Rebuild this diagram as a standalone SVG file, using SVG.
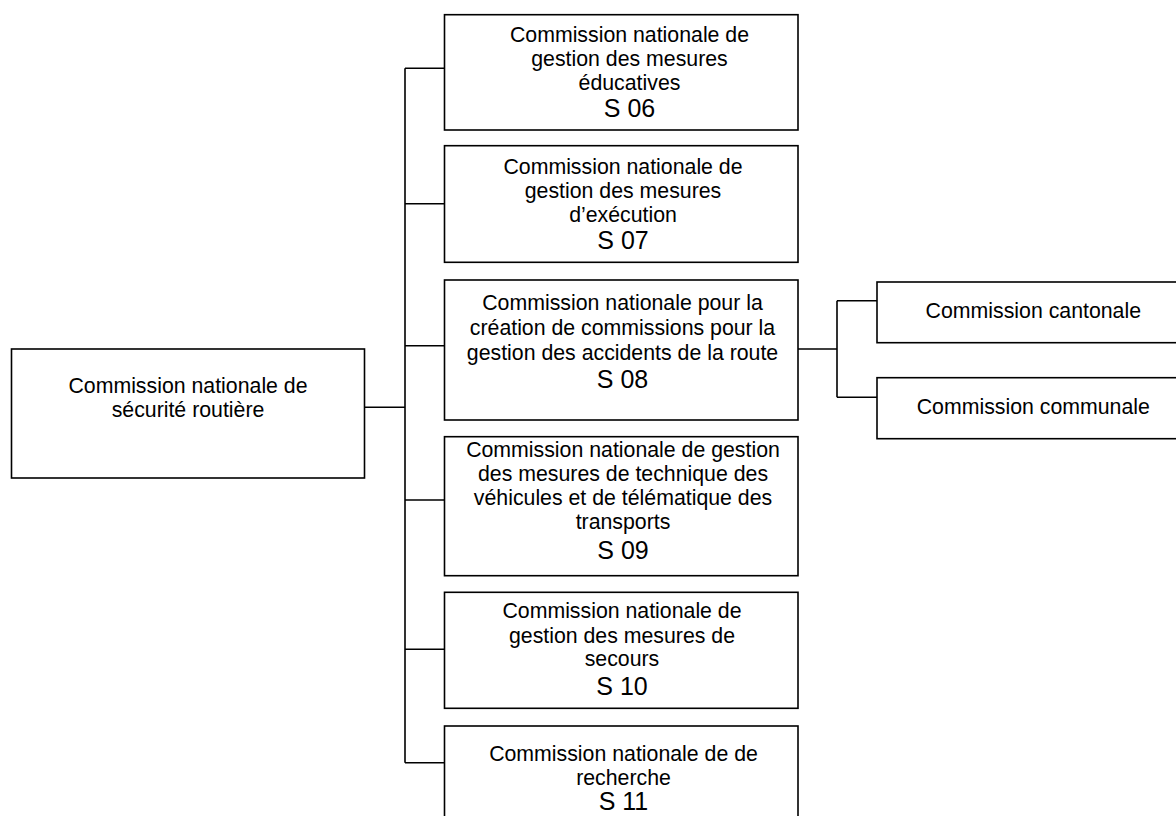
<svg xmlns="http://www.w3.org/2000/svg" width="1176" height="816" viewBox="0 0 1176 816">
<style>
  rect.box { fill: #ffffff; stroke: #000000; stroke-width: 1.6; }
  .conn { fill: none; stroke: #000000; stroke-width: 1.6; }
  text { font-family: "Liberation Sans", Arial, sans-serif; fill: #000000; text-anchor: middle; }
  .t { font-size: 21.3px; }
  .code { font-size: 25px; }
</style>
<rect x="0" y="0" width="1176" height="816" fill="#ffffff"/>
<g id="connectors">
  <path class="conn" d="M364.5 407.3 H405 M405 68.3 V762.7 M405 68.3 H444.5 M405 203.7 H444.5 M405 345.7 H444.5 M405 500 H444.5 M405 649.3 H444.5 M405 762.7 H444.5"/>
  <path class="conn" d="M798 349 H837 M837 300.7 V397.3 M837 300.7 H877 M837 397.3 H877"/>
</g>
<g id="root">
  <rect class="box" x="11.5" y="349" width="353" height="129"/>
  <text class="t" x="188" y="393">Commission nationale de</text>
  <text class="t" x="188" y="417">sécurité routière</text>
</g>
<g id="s06">
  <rect class="box" x="444.5" y="14.7" width="353.5" height="115.3"/>
  <text class="t" x="629.5" y="42">Commission nationale de</text>
  <text class="t" x="629.5" y="66">gestion des mesures</text>
  <text class="t" x="629.5" y="90">éducatives</text>
  <text class="code" x="629.5" y="117">S 06</text>
</g>
<g id="s07">
  <rect class="box" x="444.5" y="145.7" width="353.5" height="116.6"/>
  <text class="t" x="623" y="174">Commission nationale de</text>
  <text class="t" x="623" y="198">gestion des mesures</text>
  <text class="t" x="623" y="222">d’exécution</text>
  <text class="code" x="623" y="249">S 07</text>
</g>
<g id="s08">
  <rect class="box" x="444.5" y="280" width="353.5" height="140"/>
  <text class="t" x="622.5" y="310">Commission nationale pour la</text>
  <text class="t" x="622.5" y="335">création de commissions pour la</text>
  <text class="t" x="622.5" y="360">gestion des accidents de la route</text>
  <text class="code" x="622.5" y="388">S 08</text>
</g>
<g id="s09">
  <rect class="box" x="444.5" y="436.7" width="353.5" height="139"/>
  <text class="t" x="623" y="457">Commission nationale de gestion</text>
  <text class="t" x="623" y="481">des mesures de technique des</text>
  <text class="t" x="623" y="505">véhicules et de télématique des</text>
  <text class="t" x="623" y="529">transports</text>
  <text class="code" x="623" y="558.5">S 09</text>
</g>
<g id="s10">
  <rect class="box" x="444.5" y="592.3" width="353.5" height="116"/>
  <text class="t" x="622" y="618.3">Commission nationale de</text>
  <text class="t" x="622" y="642.5">gestion des mesures de</text>
  <text class="t" x="622" y="666">secours</text>
  <text class="code" x="622" y="695">S 10</text>
</g>
<g id="s11">
  <rect class="box" x="444.5" y="726" width="353.5" height="130"/>
  <text class="t" x="623.5" y="761">Commission nationale de de</text>
  <text class="t" x="623.5" y="785">recherche</text>
  <text class="code" x="623.5" y="810">S 11</text>
</g>
<g id="cantonale">
  <rect class="box" x="877" y="282" width="313" height="60.7"/>
  <text class="t" x="1033.3" y="318">Commission cantonale</text>
</g>
<g id="communale">
  <rect class="box" x="877" y="377.7" width="313" height="61"/>
  <text class="t" x="1033.3" y="414">Commission communale</text>
</g>
</svg>
